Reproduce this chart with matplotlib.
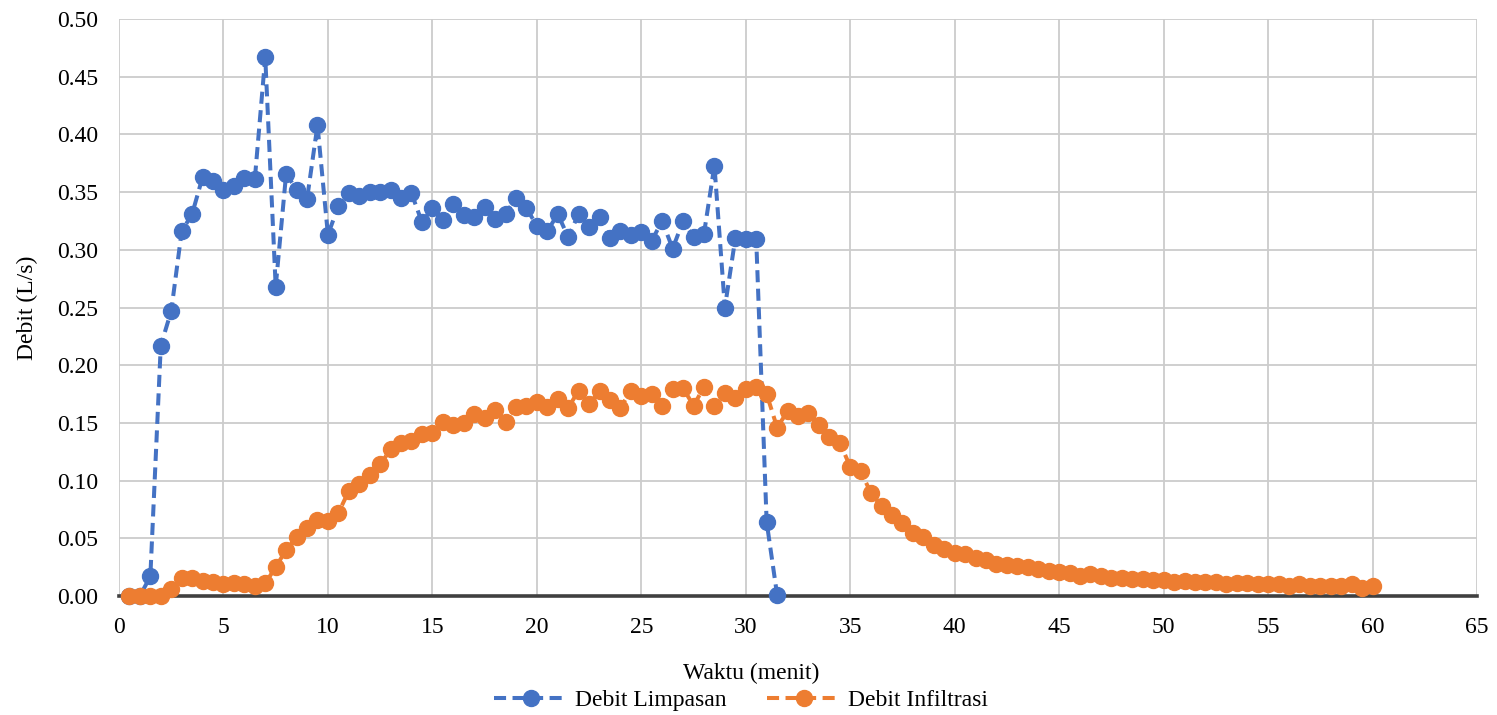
import matplotlib
matplotlib.use("Agg")
import matplotlib.pyplot as plt
import numpy as np

plt.rcParams['font.family'] = ['Liberation Serif', 'DejaVu Serif']

# Time (minutes)
waktu_limpasan = [0.5 * i for i in range(1, 64)]      # 0.5 .. 31.5
waktu_infiltrasi = [0.5 * i for i in range(1, 121)]   # 0.5 .. 60

debit_limpasan = [
    0.000, 0.000, 0.017, 0.217, 0.247, 0.316, 0.331, 0.363, 0.360, 0.352,
    0.355, 0.362, 0.361, 0.467, 0.268, 0.366, 0.352, 0.344, 0.408, 0.313,
    0.338, 0.349, 0.347, 0.350, 0.350, 0.352, 0.345, 0.349, 0.324, 0.336,
    0.326, 0.340, 0.330, 0.328, 0.337, 0.327, 0.331, 0.345, 0.336, 0.321,
    0.316, 0.331, 0.311, 0.331, 0.320, 0.328, 0.310, 0.316, 0.313, 0.315,
    0.308, 0.325, 0.301, 0.325, 0.311, 0.314, 0.373, 0.250, 0.310, 0.309,
    0.309, 0.064, 0.001,
]

debit_infiltrasi = [
    0.000, 0.000, 0.000, 0.000, 0.006, 0.016, 0.016, 0.013, 0.012, 0.010,
    0.011, 0.010, 0.009, 0.011, 0.025, 0.040, 0.051, 0.059, 0.066, 0.065,
    0.072, 0.091, 0.097, 0.105, 0.114, 0.127, 0.133, 0.134, 0.140, 0.141,
    0.151, 0.148, 0.150, 0.158, 0.154, 0.161, 0.151, 0.164, 0.165, 0.168,
    0.164, 0.171, 0.163, 0.178, 0.166, 0.178, 0.170, 0.163, 0.178, 0.173,
    0.175, 0.165, 0.179, 0.180, 0.165, 0.181, 0.165, 0.176, 0.172, 0.179,
    0.181, 0.175, 0.146, 0.160, 0.156, 0.159, 0.148, 0.138, 0.133, 0.112,
    0.108, 0.089, 0.078, 0.070, 0.063, 0.055, 0.051, 0.044, 0.041, 0.037,
    0.036, 0.033, 0.031, 0.028, 0.027, 0.026, 0.025, 0.023, 0.022, 0.021,
    0.020, 0.017, 0.019, 0.017, 0.016, 0.016, 0.015, 0.015, 0.014, 0.014,
    0.012, 0.013, 0.012, 0.012, 0.012, 0.010, 0.011, 0.011, 0.010, 0.010,
    0.010, 0.009, 0.010, 0.009, 0.009, 0.009, 0.009, 0.010, 0.007, 0.009,
]

x_ticks = list(range(0, 70, 5))
y_ticks = [0.00, 0.05, 0.10, 0.15, 0.20, 0.25, 0.30, 0.35, 0.40, 0.45, 0.50]

fig = plt.figure(figsize=(14.97, 7.15), dpi=100)
ax = fig.add_axes([119 / 1497, 1 - 596 / 715, (1477 - 119) / 1497, (596 - 19) / 715])

blue = '#4472C4'
orange = '#ED7D31'
dash = (0, (3, 1.6))

ax.plot(waktu_limpasan, debit_limpasan, color=blue, lw=2.9, ls=dash,
        marker='o', ms=11.5, label='Debit Limpasan', zorder=3, clip_on=False)
ax.plot(waktu_infiltrasi, debit_infiltrasi, color=orange, lw=2.9, ls=dash,
        marker='o', ms=11.5, label='Debit Infiltrasi', zorder=4, clip_on=False)

ax.set_xlim(0, 65)
ax.set_ylim(0, 0.5)
ax.set_xticks(x_ticks)
ax.set_yticks(y_ticks)
ax.set_yticklabels([f'{v:.2f}' for v in y_ticks])
ax.tick_params(axis='y', length=0, labelsize=17, colors='black', pad=15)
ax.tick_params(axis='x', length=0, labelsize=17, colors='black', pad=15)
ax.grid(True, color='#cccccc', lw=1.3, zorder=0)
ax.set_axisbelow(True)
for side in ['top', 'right', 'left']:
    ax.spines[side].set_visible(False)
ax.spines['bottom'].set_color('#404040')
ax.spines['bottom'].set_linewidth(2.6)
ax.spines['bottom'].set_zorder(2)

ax.set_ylabel('Debit (L/s)', fontsize=17, labelpad=14)
fig.text(751 / 1497, 1 - 673 / 715, 'Waktu (menit)', fontsize=17,
         ha='center', va='center')

leg = fig.legend(loc='center', bbox_to_anchor=(741 / 1497, 1 - 700 / 715), ncol=2,
                 frameon=False, fontsize=17, handlelength=3.1, columnspacing=1.75,
                 handletextpad=0.3, borderaxespad=0, borderpad=0)

fig.savefig('out.png', dpi=100)
